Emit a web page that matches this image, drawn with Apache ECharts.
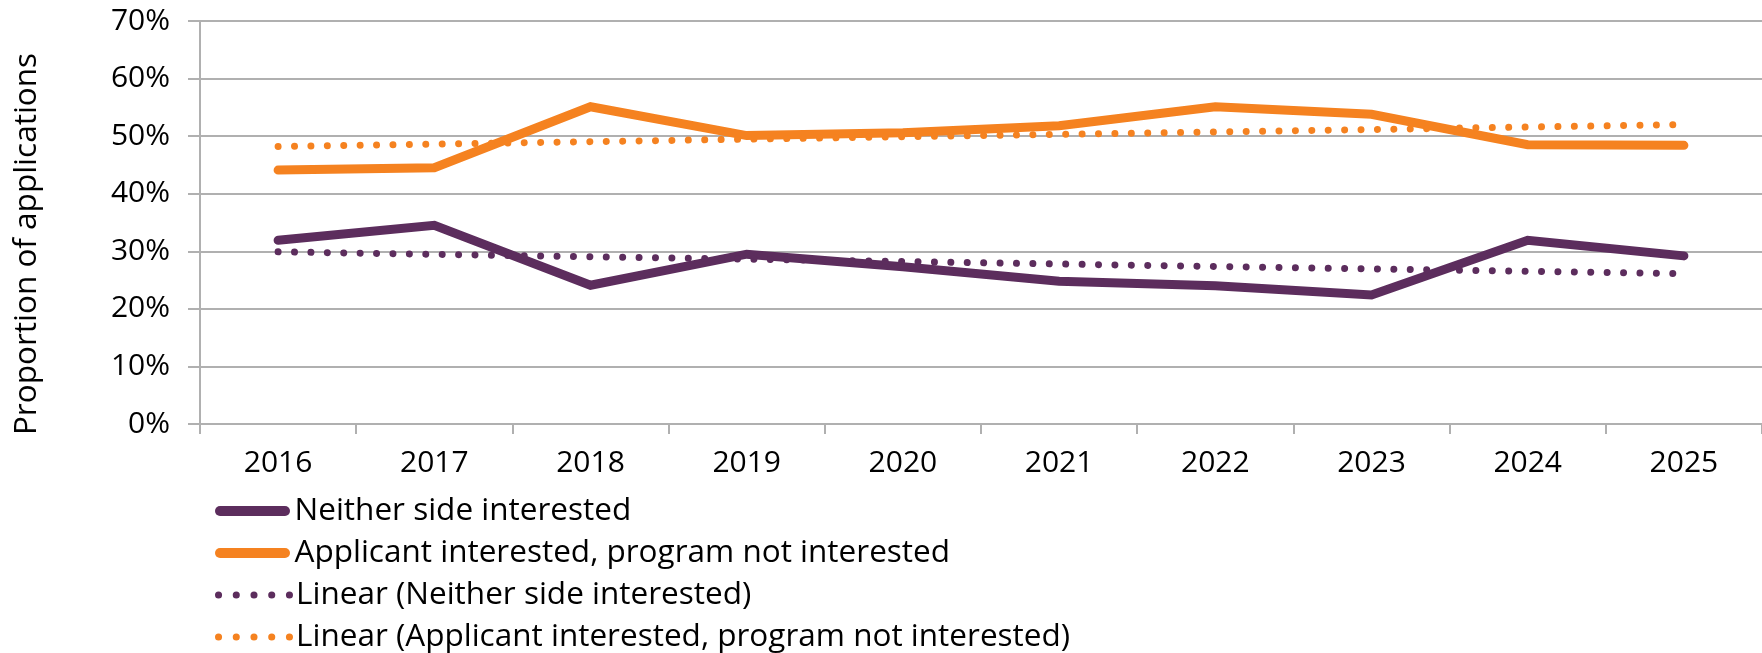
<!DOCTYPE html>
<html>
<head>
<meta charset="utf-8">
<script src="https://cdn.jsdelivr.net/npm/echarts@6/dist/echarts.min.js"></script>
<style>
  html, body { margin: 0; padding: 0; background: #ffffff; }
  #chart { width: 1762px; height: 653px; }
</style>
</head>
<body>
<div id="chart"></div>
<script>
// Application outcomes by year, in percent of all applications
const years = ['2016', '2017', '2018', '2019', '2020', '2021', '2022', '2023', '2024', '2025'];
const neitherInterested = [31.9, 34.5, 24.1, 29.5, 27.3, 24.8, 24.0, 22.4, 31.9, 29.2];
const applicantOnly = [44.1, 44.5, 55.1, 50.1, 50.6, 51.8, 55.1, 53.8, 48.5, 48.4];
// Linear trend lines: start and end values, joined straight across
const trendNeither = [29.9, null, null, null, null, null, null, null, null, 26.1];
const trendApplicant = [48.2, null, null, null, null, null, null, null, null, 52.0];
const yTicks = { min: 0, max: 70, step: 10 };

const seriesNames = [
  'Neither side interested',
  'Applicant interested, program not interested',
  'Linear (Neither side interested)',
  'Linear (Applicant interested, program not interested)'
];

const PURPLE = '#5c2d5d';
const ORANGE = '#f58220';
const GRID_GRAY = '#b0b0b0';
const FONT = '"Open Sans", "Noto Sans", sans-serif';

// Legend swatches: a pill for solid lines, a row of dots for trend lines
const pillIcon = 'path://M5,0 H70 A5,5 0 0 1 70,10 H5 A5,5 0 0 1 5,0 Z';
let dotPath = 'path://';
for (let i = 0; i < 5; i++) {
  const cx = 5 + i * 16;
  dotPath += `M${cx - 3.2},5 a3.2,3.2 0 1,0 6.4,0 a3.2,3.2 0 1,0 -6.4,0 `;
}

const chart = echarts.init(document.getElementById('chart'), null, { renderer: 'canvas' });

const solidLine = (name, data, color) => ({
  name, type: 'line', data,
  symbol: 'none',
  lineStyle: { color, width: 9, cap: 'round', join: 'miter' },
  itemStyle: { color },
  z: 2
});

const dottedLine = (name, data, color) => ({
  name, type: 'line', data,
  symbol: 'none',
  connectNulls: true,
  lineStyle: { color, width: 7, cap: 'round', type: [0.01, 16.4] },
  itemStyle: { color },
  z: 3
});

// One single-row legend per series, stacked down the bottom left
const legendRowCenters = [511, 553, 595, 637];
const legendIcons = [pillIcon, pillIcon, dotPath, dotPath];
const legendColors = [PURPLE, ORANGE, PURPLE, ORANGE];
const legends = seriesNames.map((name, i) => ({
  orient: 'horizontal',
  left: 215,
  top: legendRowCenters[i] - 17,
  padding: 0,
  itemWidth: 78,
  itemHeight: 10,
  symbolKeepAspect: true,
  textStyle: { color: '#000000', fontFamily: FONT, fontSize: 31.5, lineHeight: 34, padding: [0, 0, 0, -2] },
  data: [{ name, icon: legendIcons[i], itemStyle: { color: legendColors[i] } }]
}));

chart.setOption({
  animation: false,
  backgroundColor: '#ffffff',
  grid: { left: 200, right: 0, top: 21, bottom: 229, containLabel: false },
  xAxis: {
    type: 'category',
    data: years,
    boundaryGap: true,
    axisLine: { lineStyle: { color: GRID_GRAY, width: 2 } },
    axisTick: { show: true, length: 10, lineStyle: { color: GRID_GRAY, width: 2 } },
    axisLabel: { color: '#000000', fontFamily: FONT, fontSize: 30, margin: 24 },
    splitLine: { show: false }
  },
  yAxis: {
    type: 'value',
    min: yTicks.min, max: yTicks.max, interval: yTicks.step,
    axisLine: { show: true, lineStyle: { color: GRID_GRAY, width: 2 } },
    axisTick: { show: true, length: 12, lineStyle: { color: GRID_GRAY, width: 2 } },
    axisLabel: { color: '#000000', fontFamily: FONT, fontSize: 30, margin: 30, formatter: '{value}%' },
    splitLine: { show: true, lineStyle: { color: GRID_GRAY, width: 2 } }
  },
  legend: legends,
  graphic: [{
    type: 'text',
    x: 27, y: 244,
    rotation: Math.PI / 2,
    style: {
      text: 'Proportion of applications',
      fill: '#000000',
      font: '31.5px "Open Sans", "Noto Sans", sans-serif',
      align: 'center',
      verticalAlign: 'middle'
    }
  }],
  series: [
    solidLine(seriesNames[0], neitherInterested, PURPLE),
    solidLine(seriesNames[1], applicantOnly, ORANGE),
    dottedLine(seriesNames[2], trendNeither, PURPLE),
    dottedLine(seriesNames[3], trendApplicant, ORANGE)
  ]
});
</script>
</body>
</html>
